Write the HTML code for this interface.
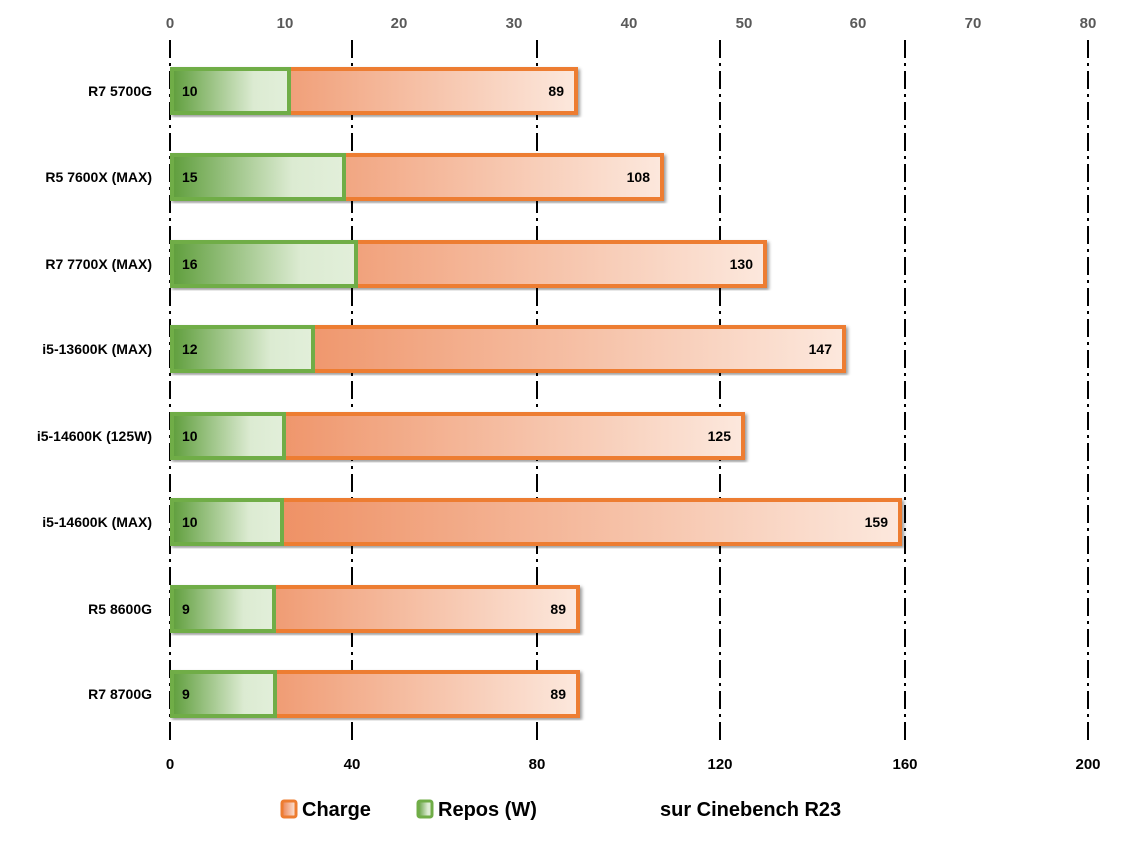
<!DOCTYPE html>
<html><head><style>body{margin:0;background:#fff}</style></head><body>
<svg width="1124" height="842" xmlns="http://www.w3.org/2000/svg" font-family="Liberation Sans, sans-serif" font-weight="bold">
<defs>
<linearGradient id="o" x1="0" x2="1"><stop offset="0" stop-color="#ec8250"/><stop offset="1" stop-color="#fce8dd"/></linearGradient>
<linearGradient id="g" x1="0" x2="1"><stop offset="0" stop-color="#5f9e3c"/><stop offset="0.7" stop-color="#dcebd2"/><stop offset="1" stop-color="#e2efda"/></linearGradient>
<filter id="sh"><feDropShadow dx="2" dy="2" stdDeviation="1.5" flood-opacity="0.4"/></filter>
</defs>
<g stroke="#000" stroke-width="2" stroke-dasharray="18 5 3 5">
<line x1="170" y1="40" x2="170" y2="742"/><line x1="352" y1="40" x2="352" y2="742"/><line x1="537" y1="40" x2="537" y2="742"/><line x1="720" y1="40" x2="720" y2="742"/><line x1="905" y1="40" x2="905" y2="742"/><line x1="1088" y1="40" x2="1088" y2="742"/>
</g>
<g font-size="15" fill="#595959" text-anchor="middle">
<text x="170" y="28">0</text><text x="285" y="28">10</text><text x="399" y="28">20</text><text x="514" y="28">30</text><text x="629" y="28">40</text><text x="744" y="28">50</text><text x="858" y="28">60</text><text x="973" y="28">70</text><text x="1088" y="28">80</text>
</g>
<g font-size="15" fill="#000" text-anchor="middle">
<text x="170" y="769">0</text><text x="352" y="769">40</text><text x="537" y="769">80</text><text x="720" y="769">120</text><text x="905" y="769">160</text><text x="1088" y="769">200</text>
</g>
<g font-size="14" fill="#000">
<g transform="translate(0,91)"><text x="152" y="5" text-anchor="end">R7 5700G</text><rect x="172" y="-22" width="404" height="44" fill="url(#o)" stroke="#ed7d31" stroke-width="4" filter="url(#sh)"/><rect x="172" y="-22" width="117" height="44" fill="url(#g)" stroke="#70ad47" stroke-width="4"/><text x="182" y="5">10</text><text x="564" y="5" text-anchor="end">89</text></g>
<g transform="translate(0,177)"><text x="152" y="5" text-anchor="end">R5 7600X (MAX)</text><rect x="172" y="-22" width="490" height="44" fill="url(#o)" stroke="#ed7d31" stroke-width="4" filter="url(#sh)"/><rect x="172" y="-22" width="172" height="44" fill="url(#g)" stroke="#70ad47" stroke-width="4"/><text x="182" y="5">15</text><text x="650" y="5" text-anchor="end">108</text></g>
<g transform="translate(0,264)"><text x="152" y="5" text-anchor="end">R7 7700X (MAX)</text><rect x="172" y="-22" width="593" height="44" fill="url(#o)" stroke="#ed7d31" stroke-width="4" filter="url(#sh)"/><rect x="172" y="-22" width="184" height="44" fill="url(#g)" stroke="#70ad47" stroke-width="4"/><text x="182" y="5">16</text><text x="753" y="5" text-anchor="end">130</text></g>
<g transform="translate(0,349)"><text x="152" y="5" text-anchor="end">i5-13600K (MAX)</text><rect x="172" y="-22" width="672" height="44" fill="url(#o)" stroke="#ed7d31" stroke-width="4" filter="url(#sh)"/><rect x="172" y="-22" width="141" height="44" fill="url(#g)" stroke="#70ad47" stroke-width="4"/><text x="182" y="5">12</text><text x="832" y="5" text-anchor="end">147</text></g>
<g transform="translate(0,436)"><text x="152" y="5" text-anchor="end">i5-14600K (125W)</text><rect x="172" y="-22" width="571" height="44" fill="url(#o)" stroke="#ed7d31" stroke-width="4" filter="url(#sh)"/><rect x="172" y="-22" width="112" height="44" fill="url(#g)" stroke="#70ad47" stroke-width="4"/><text x="182" y="5">10</text><text x="731" y="5" text-anchor="end">125</text></g>
<g transform="translate(0,522)"><text x="152" y="5" text-anchor="end">i5-14600K (MAX)</text><rect x="172" y="-22" width="728" height="44" fill="url(#o)" stroke="#ed7d31" stroke-width="4" filter="url(#sh)"/><rect x="172" y="-22" width="110" height="44" fill="url(#g)" stroke="#70ad47" stroke-width="4"/><text x="182" y="5">10</text><text x="888" y="5" text-anchor="end">159</text></g>
<g transform="translate(0,609)"><text x="152" y="5" text-anchor="end">R5 8600G</text><rect x="172" y="-22" width="406" height="44" fill="url(#o)" stroke="#ed7d31" stroke-width="4" filter="url(#sh)"/><rect x="172" y="-22" width="102" height="44" fill="url(#g)" stroke="#70ad47" stroke-width="4"/><text x="182" y="5">9</text><text x="566" y="5" text-anchor="end">89</text></g>
<g transform="translate(0,694)"><text x="152" y="5" text-anchor="end">R7 8700G</text><rect x="172" y="-22" width="406" height="44" fill="url(#o)" stroke="#ed7d31" stroke-width="4" filter="url(#sh)"/><rect x="172" y="-22" width="103" height="44" fill="url(#g)" stroke="#70ad47" stroke-width="4"/><text x="182" y="5">9</text><text x="566" y="5" text-anchor="end">89</text></g>
</g>
<g font-size="20" fill="#000">
<rect x="282" y="801" width="14" height="16" rx="2" fill="url(#o)" stroke="#ed7d31" stroke-width="3"/><text x="302" y="816">Charge</text>
<rect x="418" y="801" width="14" height="16" rx="2" fill="url(#g)" stroke="#70ad47" stroke-width="3"/><text x="438" y="816">Repos (W)</text>
<text x="660" y="816">sur Cinebench R23</text>
</g>
</svg>
</body></html>
